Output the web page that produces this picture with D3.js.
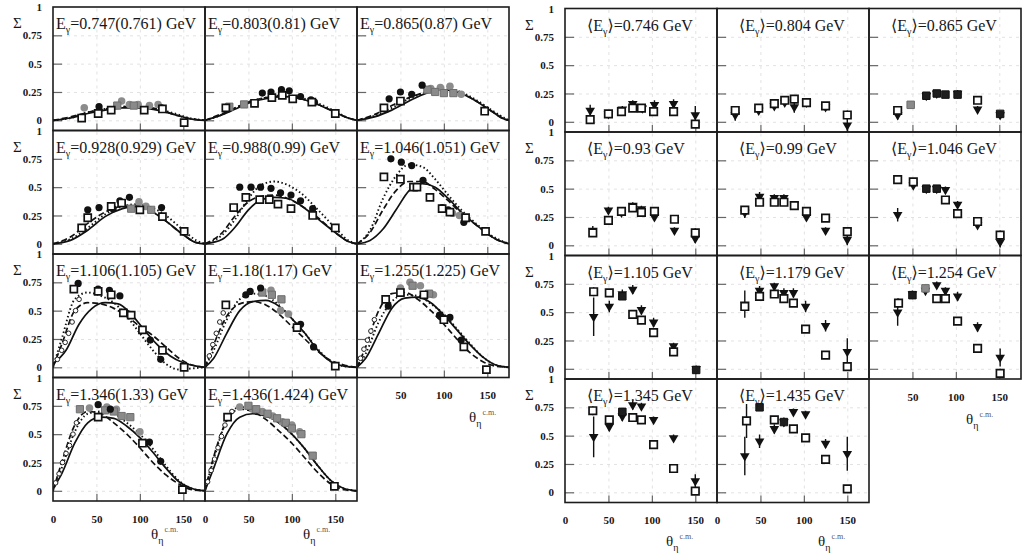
<!DOCTYPE html>
<html>
<head>
<meta charset="utf-8">
<script src="https://cdn.jsdelivr.net/npm/d3@7"></script>
<style>
  body { margin: 0; background: #fff; }
  text { font-family: "Liberation Serif", "DejaVu Serif", serif; fill: #161616; }
  .ptitle { font-size: 16px; }
  .sub { font-size: 10px; }
  .grid line { stroke: #dadada; stroke-width: 0.8; stroke-dasharray: 3,4; }
  .tin line { stroke: #666; stroke-width: 1.2; }
  .frame { fill: none; stroke: #1c1c1c; stroke-width: 1.6; }
  .ylab text, .xlab text { font-size: 11px; font-weight: bold; }
  .sigma { font-size: 15px; }
  .theta { font-size: 15px; }
  .cm { font-size: 8px; fill: #555; }
  .c-solid, .c-dash, .c-dot { fill: none; stroke: #111; stroke-width: 1.7; }
  .c-dash { stroke-dasharray: 6,3; }
  .c-dot { stroke-dasharray: 1.5,2.5; stroke-width: 1.9; }
  .m-open { fill: #fff; stroke: #111; stroke-width: 1.7; }
  .m-black { fill: #111; }
  .m-gray { fill: #8c8c8c; }
  .m-graysq { fill: #8a8a8a; stroke: #6e6e6e; stroke-width: 1; }
  .m-small { fill: #fff; stroke: #222; stroke-width: 1; }
  .m-fill { fill: #1e1e1e; stroke: #111; stroke-width: 1; }
  .err { stroke: #111; stroke-width: 1.4; }
</style>
</head>
<body>
<svg id="chart" width="1025" height="560"></svg>
<script>
var thetaTicks = [0, 50, 100, 150];
var sigmaTicks = [0, 0.25, 0.5, 0.75, 1];

// ---- left block: data + three model curves ----
var leftLabels = ['0.747(0.761)', '0.803(0.81)', '0.865(0.87)', '0.928(0.929)', '0.988(0.99)',
  '1.046(1.051)', '1.106(1.105)', '1.18(1.17)', '1.255(1.225)', '1.346(1.33)', '1.436(1.424)'];

var leftOpenSquares = [
  [[33,0.02],[52,0.06],[67,0.09],[105,0.09],[126,0.10],[151,-0.02]],
  [[24,0.11],[57,0.15],[77,0.20],[89,0.22],[101,0.19],[123,0.16],[150,0.06]],
  [[31,0.11],[50,0.17],[147,0.08]],
  [[33,0.14],[40,0.23],[67,0.33],[79,0.36],[100,0.30],[126,0.24],[151,0.11]],
  [[33,0.32],[47,0.41],[63,0.39],[74,0.39],[84,0.35],[99,0.31],[124,0.25],[150,0.14]],
  [[31,0.59],[50,0.57],[65,0.50],[69,0.50],[84,0.41],[98,0.31],[107,0.28],[125,0.23],[148,0.11]],
  [[24,0.69],[52,0.67],[67,0.64],[81,0.48],[90,0.46],[103,0.33],[126,0.15],[151,0.0]],
  [[24,0.55],[106,0.35],[150,0.01]],
  [[33,0.60],[50,0.66],[77,0.64],[100,0.42],[123,0.18],[149,-0.02]],
  [[52,0.65],[103,0.42],[149,0.01]],
  [[26,0.65],[149,0.04]]
];
var leftBlackDots = [
  [[53,0.12],[125,0.11]],
  [[66,0.24],[76,0.25],[88,0.27],[97,0.26],[110,0.21],[122,0.18],[126,0.16]],
  [[37,0.19],[50,0.25],[63,0.23],[75,0.31]],
  [[40,0.30],[53,0.32],[69,0.31],[77,0.38],[88,0.41],[125,0.32]],
  [[40,0.50],[53,0.50],[64,0.50],[76,0.49],[87,0.45],[99,0.43],[110,0.38],[124,0.31]],
  [[39,0.75],[51,0.72],[63,0.69],[76,0.56],[98,0.32],[105,0.30],[123,0.19]],
  [[29,0.74],[52,0.69],[65,0.68],[77,0.63],[87,0.47],[103,0.33],[112,0.24],[124,0.07]],
  [[47,0.64],[52,0.67],[64,0.70],[110,0.38],[125,0.18]],
  [[36,0.54],[95,0.46],[107,0.44],[120,0.24]],
  [[52,0.76],[66,0.72],[111,0.43],[124,0.26]],
  []
];
var leftGrayDots = [
  [[36,0.11],[79,0.17],[88,0.14],[98,0.14],[111,0.13],[121,0.14]],
  [],
  [[85,0.28],[96,0.29],[107,0.30],[120,0.23]],
  [[99,0.37],[107,0.33]],
  [],
  [[110,0.27],[118,0.25]],
  [],
  [[76,0.68],[87,0.50],[96,0.47]],
  [[50,0.70],[61,0.75],[73,0.72],[88,0.64]],
  [[42,0.73],[62,0.74],[73,0.72],[100,0.52]],
  [[40,0.74],[55,0.72],[66,0.70],[78,0.66],[89,0.61],[100,0.58],[109,0.52]]
];
var leftGraySquares = [
  [[74,0.13],[93,0.13]],
  [[28,0.12],[45,0.14]],
  [[81,0.27],[90,0.25],[100,0.24],[111,0.24]],
  [[90,0.31],[113,0.30]],
  [], [], [],
  [[66,0.66],[77,0.64],[88,0.60]],
  [[64,0.72],[83,0.65]],
  [[31,0.72],[60,0.71],[70,0.70],[79,0.66],[89,0.65]],
  [[50,0.75],[59,0.72],[72,0.68],[83,0.64],[93,0.60],[100,0.55],[111,0.50],[124,0.31]]
];
var leftSmallCircles = [
  [], [], [], [], [], [],
  [[5,0.07],[10,0.15],[14,0.22],[18,0.30],[22,0.40],[26,0.50],[30,0.60]],
  [[5,0.10],[9,0.20],[13,0.30],[17,0.40],[21,0.48]],
  [[4,0.08],[8,0.16],[12,0.24],[16,0.32],[20,0.42]],
  [[3,0.07],[7,0.15],[11,0.25],[15,0.33],[19,0.40],[23,0.50],[27,0.60]],
  [[3,0.08],[7,0.18],[11,0.28],[15,0.38],[19,0.48],[23,0.58],[27,0.66],[31,0.70]]
];
var leftSolid = [
  [[0,0],[20,0.02],[40,0.06],[60,0.09],[80,0.11],[100,0.11],[120,0.09],[140,0.05],[160,0.01],[175,0]],
  [[0,0],[20,0.05],[35,0.10],[50,0.15],[70,0.19],[90,0.21],[110,0.19],[130,0.14],[150,0.07],[165,0.02],[175,0]],
  [[0,0],[20,0.03],[40,0.09],[60,0.17],[80,0.24],[95,0.27],[115,0.25],[135,0.18],[155,0.08],[170,0.01],[175,0]],
  [[0,0],[20,0.03],[40,0.12],[60,0.24],[80,0.31],[95,0.33],[110,0.30],[130,0.20],[150,0.08],[165,0.01],[175,0]],
  [[0,0],[20,0.04],[35,0.15],[50,0.30],[65,0.39],[80,0.41],[95,0.40],[110,0.34],[130,0.22],[150,0.10],[165,0.02],[175,0]],
  [[0,0],[15,0.03],[30,0.13],[45,0.30],[60,0.47],[75,0.53],[90,0.50],[105,0.40],[120,0.28],[140,0.15],[160,0.04],[175,0]],
  [[0,0.03],[15,0.15],[30,0.38],[45,0.52],[60,0.57],[75,0.56],[90,0.47],[105,0.33],[120,0.20],[135,0.10],[150,0.04],[165,0.01],[175,0]],
  [[0,0],[10,0.08],[25,0.30],[40,0.50],[55,0.58],[70,0.59],[85,0.54],[100,0.43],[115,0.30],[130,0.15],[145,0.05],[160,0.01],[175,0]],
  [[0,0],[10,0.08],[25,0.30],[40,0.52],[55,0.61],[70,0.62],[85,0.57],[100,0.46],[115,0.33],[130,0.20],[145,0.09],[160,0.02],[175,0]],
  [[0,0.02],[10,0.15],[25,0.42],[40,0.60],[55,0.65],[70,0.64],[85,0.57],[100,0.47],[115,0.34],[130,0.20],[145,0.08],[160,0.02],[175,0]],
  [[0,0],[10,0.20],[25,0.50],[40,0.65],[55,0.68],[70,0.66],[85,0.60],[100,0.50],[115,0.37],[130,0.22],[145,0.09],[160,0.02],[175,0]]
];
var leftDashed = [
  [[0,0],[20,0.03],[40,0.07],[60,0.10],[80,0.12],[100,0.12],[120,0.10],[140,0.05],[160,0.01],[175,0]],
  [[0,0],[20,0.06],[35,0.11],[50,0.16],[70,0.20],[90,0.21],[110,0.19],[130,0.14],[150,0.07],[165,0.02],[175,0]],
  [[0,0],[20,0.05],[40,0.13],[60,0.20],[80,0.25],[95,0.27],[115,0.25],[135,0.18],[155,0.08],[170,0.01],[175,0]],
  [[0,0],[20,0.06],[40,0.18],[60,0.28],[80,0.33],[95,0.33],[110,0.30],[130,0.20],[150,0.08],[165,0.01],[175,0]],
  [[0,0],[20,0.10],[35,0.25],[50,0.37],[65,0.42],[80,0.43],[95,0.40],[110,0.34],[130,0.23],[150,0.10],[165,0.02],[175,0]],
  [[0,0],[15,0.10],[30,0.30],[45,0.47],[60,0.55],[75,0.55],[90,0.48],[105,0.38],[120,0.27],[140,0.15],[160,0.04],[175,0]],
  [[0,0],[10,0.20],[25,0.50],[40,0.57],[55,0.56],[70,0.52],[85,0.45],[100,0.36],[115,0.28],[130,0.18],[145,0.08],[160,0.02],[175,0]],
  [[0,0],[10,0.20],[25,0.45],[40,0.56],[55,0.58],[70,0.55],[85,0.47],[100,0.36],[115,0.25],[130,0.14],[145,0.06],[160,0.02],[175,0]],
  [[0,0],[10,0.18],[25,0.50],[40,0.65],[55,0.66],[70,0.60],[85,0.50],[100,0.38],[115,0.25],[130,0.13],[145,0.05],[160,0.01],[175,0]],
  [[0,0],[10,0.25],[25,0.58],[40,0.70],[55,0.68],[70,0.60],[85,0.50],[100,0.38],[115,0.25],[130,0.14],[145,0.06],[160,0.01],[175,0]],
  [[0,0],[10,0.30],[25,0.62],[40,0.72],[55,0.70],[70,0.63],[85,0.53],[100,0.42],[115,0.29],[130,0.16],[145,0.06],[160,0.01],[175,0]]
];
var leftDotted = [
  [[0,0],[20,0.02],[40,0.07],[60,0.10],[80,0.12],[100,0.12],[120,0.10],[140,0.06],[160,0.015],[175,0]],
  [[0,0],[20,0.05],[35,0.11],[50,0.16],[70,0.20],[90,0.22],[110,0.20],[130,0.15],[150,0.08],[165,0.02],[175,0]],
  [[0,0],[20,0.04],[40,0.11],[60,0.19],[80,0.25],[95,0.28],[115,0.26],[135,0.19],[155,0.09],[170,0.02],[175,0]],
  [[0,0],[20,0.04],[40,0.14],[60,0.26],[80,0.33],[95,0.35],[110,0.33],[130,0.25],[150,0.12],[165,0.03],[175,0]],
  [[0,0],[20,0.08],[35,0.22],[50,0.40],[65,0.52],[80,0.55],[95,0.52],[110,0.45],[130,0.30],[150,0.14],[165,0.03],[175,0]],
  [[0,0],[15,0.12],[30,0.40],[45,0.60],[60,0.70],[75,0.68],[90,0.57],[105,0.43],[120,0.30],[140,0.16],[160,0.05],[175,0]],
  [[0,0],[10,0.25],[25,0.60],[40,0.66],[55,0.63],[70,0.57],[85,0.45],[100,0.30],[115,0.15],[130,0.03],[145,-0.02],[160,-0.01],[175,0]],
  [[0,0],[10,0.15],[25,0.42],[40,0.60],[55,0.65],[70,0.63],[85,0.55],[100,0.43],[115,0.30],[130,0.16],[145,0.05],[160,0.01],[175,0]],
  [[0,0],[10,0.12],[25,0.40],[40,0.58],[55,0.64],[70,0.63],[85,0.56],[100,0.47],[115,0.34],[130,0.21],[145,0.09],[160,0.02],[175,0]],
  [[0,0],[10,0.20],[25,0.52],[40,0.68],[55,0.70],[70,0.68],[85,0.60],[100,0.50],[115,0.37],[130,0.22],[145,0.09],[160,0.02],[175,0]],
  [[0,0],[10,0.28],[25,0.62],[40,0.74],[55,0.72],[70,0.67],[85,0.60],[100,0.50],[115,0.37],[130,0.22],[145,0.09],[160,0.02],[175,0]]
];

// ---- right block: [theta, sigma, error] ----
var rightLabels = ['0.746', '0.804', '0.865', '0.93', '0.99', '1.046', '1.105', '1.179', '1.254', '1.345', '1.435'];

var rightSquares = [
  [[29,0.02,0.03],[50,0.07,0.03],[65,0.09,0.03],[78,0.12,0.03],[88,0.12,0.03],[102,0.09,0.03],[125,0.09,0.03],[150,-0.02,0.03]],
  [[21,0.10,0.03],[48,0.12,0.03],[66,0.16,0.03],[78,0.19,0.03],[89,0.20,0.03],[103,0.17,0.03],[125,0.14,0.03],[150,0.06,0.04]],
  [[33,0.10,0.03],[125,0.19,0.03]],
  [[32,0.11,0.03],[50,0.22,0.03],[65,0.30,0.03],[78,0.33,0.03],[88,0.29,0.03],[103,0.30,0.03],[126,0.23,0.03],[150,0.11,0.04]],
  [[32,0.31,0.03],[49,0.38,0.03],[66,0.38,0.03],[77,0.38,0.03],[89,0.35,0.03],[103,0.30,0.03],[125,0.24,0.03],[150,0.12,0.04]],
  [[33,0.58,0.04],[51,0.56,0.03],[88,0.40,0.03],[102,0.28,0.03],[125,0.21,0.03],[151,0.09,0.04]],
  [[33,0.68,0.04],[51,0.67,0.03],[78,0.48,0.03],[88,0.43,0.03],[102,0.32,0.03],[125,0.15,0.03]],
  [[32,0.55,0.04],[49,0.64,0.03],[66,0.66,0.03],[77,0.62,0.03],[88,0.58,0.03],[102,0.35,0.03],[125,0.12,0.03],[150,0.02,0.04]],
  [[34,0.58,0.04],[78,0.62,0.03],[88,0.62,0.03],[102,0.42,0.03],[125,0.18,0.03],[151,-0.04,0.04]],
  [[32,0.72,0.04],[51,0.64,0.03],[78,0.66,0.03],[88,0.64,0.03],[102,0.42,0.03],[125,0.21,0.03],[150,0.01,0.03]],
  [[34,0.63,0.15],[66,0.64,0.03],[88,0.56,0.03],[102,0.48,0.03],[125,0.29,0.03],[150,0.03,0.03]]
];
var rightFilledSquares = [
  [], [],
  [[66,0.23],[78,0.25],[88,0.24],[102,0.24],[151,0.07]],
  [], [],
  [[66,0.50],[78,0.50]],
  [[66,0.64],[151,-0.01]],
  [],
  [[50,0.65]],
  [[66,0.71]],
  [[49,0.75],[77,0.62]]
];
var rightGraySquares = [
  [], [], [[48,0.15]], [], [], [], [], [], [[65,0.71]], [], []
];
var rightTriangles = [
  [[29,0.10,0.05],[50,0.07,0.03],[66,0.11,0.03],[78,0.16,0.03],[89,0.12,0.03],[103,0.15,0.04],[125,0.16,0.04],[150,0.06,0.08]],
  [[21,0.06,0.05],[48,0.10,0.03],[66,0.14,0.03],[78,0.17,0.03],[89,0.13,0.05],[103,0.17,0.03],[125,0.13,0.03],[150,-0.03,0.06]],
  [[33,0.06,0.04],[66,0.23,0.03],[78,0.25,0.03],[102,0.25,0.03],[125,0.11,0.03],[151,0.06,0.03]],
  [[32,0.13,0.04],[50,0.31,0.03],[65,0.29,0.03],[78,0.35,0.03],[88,0.32,0.03],[103,0.25,0.03],[126,0.13,0.03],[150,0.06,0.04]],
  [[32,0.29,0.05],[49,0.43,0.04],[66,0.42,0.03],[77,0.42,0.03],[89,0.36,0.03],[103,0.25,0.03],[125,0.13,0.03],[150,0.05,0.05]],
  [[33,0.27,0.06],[51,0.53,0.03],[66,0.50,0.03],[78,0.50,0.03],[88,0.49,0.03],[102,0.36,0.03],[125,0.18,0.03],[151,0.03,0.05]],
  [[33,0.46,0.17],[51,0.55,0.05],[66,0.66,0.04],[78,0.70,0.04],[88,0.52,0.04],[102,0.41,0.04],[125,0.20,0.03],[151,0.0,0.03]],
  [[32,0.57,0.12],[49,0.69,0.04],[66,0.73,0.03],[77,0.67,0.04],[88,0.67,0.04],[102,0.55,0.05],[125,0.38,0.05],[150,0.15,0.12]],
  [[33,0.50,0.12],[50,0.66,0.03],[65,0.69,0.03],[78,0.74,0.03],[88,0.69,0.03],[102,0.64,0.04],[125,0.37,0.04],[151,0.10,0.08]],
  [[33,0.49,0.18],[51,0.58,0.04],[66,0.67,0.04],[78,0.77,0.04],[88,0.76,0.03],[102,0.64,0.03],[125,0.48,0.03],[150,0.10,0.06]],
  [[32,0.32,0.17],[49,0.45,0.06],[66,0.56,0.04],[77,0.62,0.04],[88,0.71,0.03],[102,0.69,0.03],[125,0.43,0.04],[150,0.34,0.15]]
];

// ---- layout ----
var W = 152, H = 123.5;
var leftCols = [53, 205, 357], leftTop = 7;
var rightCols = [565, 717, 869], rightTop = 8.5;

var svg = d3.select('#chart');
var x = d3.scaleLinear().domain([0, 175]).range([0, W]);
var y = d3.scaleLinear().domain([-0.09, 1]).range([H, 0]);
var line = d3.line().x(function(d) { return x(d[0]); }).y(function(d) { return y(d[1]); })
  .curve(d3.curveMonotoneX);
var clipSeq = 0;

function makePanel(px, py) {
  var g = svg.append('g').attr('transform', 'translate(' + px + ',' + py + ')');
  var id = 'clip' + (clipSeq++);
  g.append('clipPath').attr('id', id).append('rect').attr('width', W).attr('height', H);

  g.append('g').attr('class', 'grid')
    .call(d3.axisLeft(y).tickValues([0, 0.25, 0.5, 0.75]).tickSize(-W).tickFormat(''));
  g.append('g').attr('class', 'grid').attr('transform', 'translate(0,' + H + ')')
    .call(d3.axisBottom(x).tickValues([50, 100, 150]).tickSize(-H).tickFormat(''));
  g.append('g').attr('class', 'tin')
    .call(d3.axisRight(y).tickValues([0, 0.25, 0.5, 0.75]).tickSize(9).tickFormat(''));
  g.append('g').attr('class', 'tin').attr('transform', 'translate(0,' + H + ')')
    .call(d3.axisTop(x).tickValues([50, 100, 150]).tickSize(7).tickFormat(''));
  g.selectAll('.domain').remove();

  var plot = g.append('g').attr('clip-path', 'url(#' + id + ')');
  g.append('rect').attr('class', 'frame').attr('width', W).attr('height', H);
  return { g: g, plot: plot };
}

function yLabels(g) {
  g.append('g').attr('class', 'ylab')
    .call(d3.axisLeft(y).tickValues(sigmaTicks).tickSize(0).tickPadding(11)
      .tickFormat(function(d) { return String(d); }))
    .select('.domain').remove();
  g.append('text').attr('class', 'sigma').attr('x', -40).attr('y', 21).text('Σ');
}

function xLabels(g, ticks, titleX, titleY) {
  g.append('g').attr('class', 'xlab').attr('transform', 'translate(0,' + H + ')')
    .call(d3.axisBottom(x).tickValues(ticks).tickSize(0).tickPadding(14))
    .select('.domain').remove();
  var t = g.append('text').attr('class', 'theta').attr('x', titleX).attr('y', H + titleY);
  t.append('tspan').text('θ');
  t.append('tspan').attr('class', 'sub').attr('dy', 5).text('η');
  t.append('tspan').attr('class', 'cm').attr('dy', -12).attr('dx', 1).text('c.m.');
}

function dots(plot, pts, cls, r) {
  plot.selectAll(null).data(pts).enter().append('circle')
    .attr('class', cls).attr('r', r)
    .attr('cx', function(d) { return x(d[0]); })
    .attr('cy', function(d) { return y(d[1]); });
}

function marks(plot, pts, cls, type, size, rot) {
  var sym = d3.symbol().type(type).size(size);
  plot.selectAll(null).data(pts).enter().append('path')
    .attr('class', cls).attr('d', sym)
    .attr('transform', function(d) {
      return 'translate(' + x(d[0]) + ',' + y(d[1]) + ')' + (rot ? ' rotate(' + rot + ')' : '');
    });
}

function errBars(plot, pts) {
  plot.selectAll(null).data(pts).enter().append('line').attr('class', 'err')
    .attr('x1', function(d) { return x(d[0]); })
    .attr('x2', function(d) { return x(d[0]); })
    .attr('y1', function(d) { return y(d[1] - d[2]); })
    .attr('y2', function(d) { return y(d[1] + d[2]); });
}

leftLabels.forEach(function(lab, i) {
  var col = i % 3, row = Math.floor(i / 3);
  var p = makePanel(leftCols[col], leftTop + row * H);

  p.plot.append('path').datum(leftSolid[i]).attr('class', 'c-solid').attr('d', line);
  p.plot.append('path').datum(leftDashed[i]).attr('class', 'c-dash').attr('d', line);
  p.plot.append('path').datum(leftDotted[i]).attr('class', 'c-dot').attr('d', line);

  dots(p.plot, leftSmallCircles[i], 'm-small', 2.3);
  dots(p.plot, leftGrayDots[i], 'm-gray', 3.8);
  marks(p.plot, leftGraySquares[i], 'm-graysq', d3.symbolSquare, 52);
  dots(p.plot, leftBlackDots[i], 'm-black', 3.6);
  marks(p.plot, leftOpenSquares[i], 'm-open', d3.symbolSquare, 50);

  var t = p.g.append('text').attr('class', 'ptitle').attr('x', 3).attr('y', 22);
  t.append('tspan').text('E');
  t.append('tspan').attr('class', 'sub').attr('dy', 4).text('γ');
  t.append('tspan').attr('dy', -4).text('=' + lab + ' GeV');

  if (col === 0) yLabels(p.g);
  if (row === 3) xLabels(p.g, thetaTicks, 98, 38);
  if (row === 2 && col === 2) xLabels(p.g, thetaTicks.slice(1), 112, 44);
});

rightLabels.forEach(function(lab, i) {
  var col = i % 3, row = Math.floor(i / 3);
  var p = makePanel(rightCols[col], rightTop + row * H);

  errBars(p.plot, rightTriangles[i]);
  errBars(p.plot, rightSquares[i]);
  marks(p.plot, rightTriangles[i], 'm-black', d3.symbolTriangle, 40, 180);
  marks(p.plot, rightSquares[i], 'm-open', d3.symbolSquare, 56);
  marks(p.plot, rightFilledSquares[i], 'm-fill', d3.symbolSquare, 56);
  marks(p.plot, rightGraySquares[i], 'm-graysq', d3.symbolSquare, 56);

  var t = p.g.append('text').attr('class', 'ptitle').attr('x', 22).attr('y', 22);
  t.append('tspan').text('⟨E');
  t.append('tspan').attr('class', 'sub').attr('dy', 4).text('γ');
  t.append('tspan').attr('dy', -4).text('⟩=' + lab + ' GeV');

  if (col === 0) yLabels(p.g);
  if (row === 3) xLabels(p.g, thetaTicks, 101, 43);
  if (row === 2 && col === 2) xLabels(p.g, thetaTicks.slice(1), 97, 45);
});
</script>
</body>
</html>
